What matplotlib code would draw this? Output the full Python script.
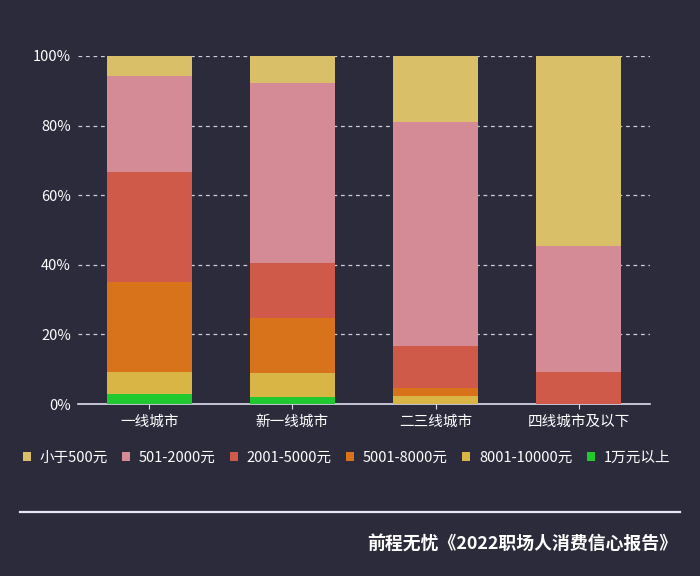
import matplotlib
matplotlib.use("Agg")
import matplotlib.pyplot as plt
from matplotlib.patches import Patch
from matplotlib.lines import Line2D
import numpy as np

plt.rcParams['font.family'] = ['Noto Sans CJK SC', 'DejaVu Sans']

categories = ['一线城市', '新一线城市', '二三线城市', '四线城市及以下']
series_names = ['小于500元', '501-2000元', '2001-5000元', '5001-8000元', '8001-10000元', '1万元以上']
# values (%) per series, per category
s_lt500 = [5.7, 7.8, 19.0, 54.6]
s_501_2000 = [27.5, 51.6, 64.3, 36.2]
s_2001_5000 = [31.8, 16.0, 12.0, 9.2]
s_5001_8000 = [25.7, 15.7, 2.5, 0.0]
s_8001_10000 = [6.3, 6.8, 2.2, 0.0]
s_10k_plus = [3.0, 2.1, 0.0, 0.0]
yticks = [0, 20, 40, 60, 80, 100]
ytick_labels = ['0%', '20%', '40%', '60%', '80%', '100%']
source = '前程无忧《2022职场人消费信心报告》'

colors = ['#DABF69', '#D48B96', '#D05A4A', '#D8731C', '#D9B546', '#1FC92F']
bg = '#2B2B3B'

fig = plt.figure(figsize=(7, 5.76), dpi=100, facecolor=bg)
ax = fig.add_axes([0.1114, 0.2986, 0.8172, 0.6042], facecolor=bg)

x = np.arange(len(categories))
stack_order = [s_10k_plus, s_8001_10000, s_5001_8000, s_2001_5000, s_501_2000, s_lt500]
stack_colors = colors[::-1]
bottom = np.zeros(len(categories))
for vals, c in zip(stack_order, stack_colors):
    v = np.array(vals)
    ax.bar(x, v, bottom=bottom, width=0.6, color=c, zorder=3, linewidth=0)
    bottom += v

ax.set_xlim(-0.5, 3.5)
ax.set_ylim(0, 100)
ax.set_yticks(yticks)
ax.set_yticklabels(ytick_labels)
ax.set_xticks(x)
ax.set_xticklabels(categories)
ax.tick_params(axis='y', length=0, colors='white', labelsize=10.5, pad=5)
ax.tick_params(axis='x', length=3.5, colors='#DDDDEE', labelcolor='white', labelsize=10.5, pad=4.5)
for t in ax.get_yticklabels() + ax.get_xticklabels():
    t.set_color('white')
ax.yaxis.grid(True, linestyle=(0, (3, 3)), color='#CFCFDA', linewidth=0.9, zorder=1)
ax.set_axisbelow(True)
for s in ['top', 'right', 'left']:
    ax.spines[s].set_visible(False)
ax.spines['bottom'].set_color('#DDDDEE')
ax.spines['bottom'].set_linewidth(1.2)

handles = [Patch(facecolor=c, edgecolor='none') for c in colors]
leg = fig.legend(handles, series_names, loc='center', bbox_to_anchor=(0.495, 0.205), ncol=6,
                 frameon=False, fontsize=10.5, handlelength=0.55, handleheight=0.55,
                 handletextpad=0.6, columnspacing=0.98, labelcolor='white')

fig.add_artist(Line2D([20/700, 680/700], [1-512/576, 1-512/576], color='#E6E6F2', linewidth=1.6))
fig.text(677/700, 1-545/576, source, ha='right', va='center', color='white', fontsize=12.85,
         fontweight='bold')

fig.savefig('out.png', dpi=100, facecolor=bg)
